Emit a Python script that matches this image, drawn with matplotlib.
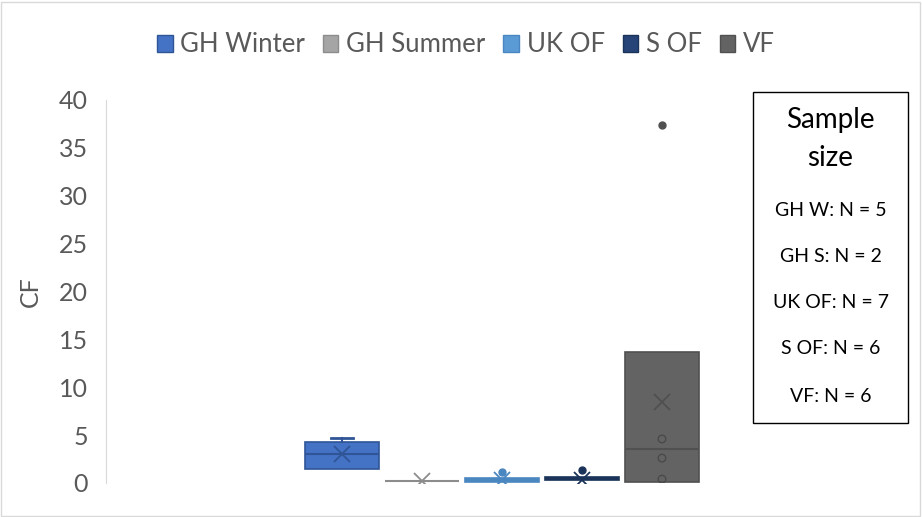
import matplotlib
matplotlib.use("Agg")
import matplotlib.pyplot as plt
from matplotlib.patches import Rectangle, Patch

plt.rcParams['font.family'] = ['Lato', 'DejaVu Sans']

# ---- data ----
categories = ["GH Winter", "GH Summer", "UK OF", "S OF", "VF"]
q1 = [1.45, 0.2, 0.14, 0.28, 0.14]
median = [3.0, 0.2, 0.3, 0.45, 3.6]
q3 = [4.3, 0.2, 0.49, 0.66, 13.7]
whislo = [1.45, 0.2, 0.14, 0.28, 0.14]
whishi = [4.75, 0.2, 0.49, 0.66, 13.7]
means = [3.0, 0.2, 0.3, 0.3, 8.45]
outliers = [[], [], [1.18], [1.4], [37.4]]
inner_points = [[], [], [], [], [0.4, 2.6, 4.6]]
sample_sizes = [5, 2, 7, 6, 6]
sample_labels = ["GH W", "GH S", "UK OF", "S OF", "VF"]

face_colors = ["#4472C4", "#A5A5A5", "#5B9BD5", "#264478", "#636363"]
edge_colors = ["#2F5597", "#8C8C8C", "#4A86C0", "#1B3359", "#505050"]

W, H = 922, 517
fig = plt.figure(figsize=(W / 100, H / 100), dpi=100)
ax = fig.add_axes([106 / W, 1 - 483 / H, (898 - 106) / W, (483 - 100) / H])

positions = [-2, -1, 0, 1, 2]
for i, cat in enumerate(categories):
    stats = [dict(med=median[i], q1=q1[i], q3=q3[i], whislo=whislo[i],
                  whishi=whishi[i], mean=means[i], fliers=outliers[i])]
    art = ax.bxp(stats, positions=[positions[i]], widths=0.93, patch_artist=True,
                 showmeans=True, capwidths=0.27,
                 boxprops=dict(facecolor=face_colors[i], edgecolor=edge_colors[i], linewidth=1.2),
                 medianprops=dict(color=edge_colors[i], linewidth=1.5),
                 whiskerprops=dict(color=edge_colors[i], linewidth=1.5),
                 capprops=dict(color=edge_colors[i], linewidth=2),
                 meanprops=dict(marker='x', markeredgecolor=edge_colors[i], markersize=11,
                                markeredgewidth=1.3),
                 flierprops=dict(marker='o', markerfacecolor=edge_colors[i],
                                 markeredgecolor=edge_colors[i], markersize=5))
    # hide caps of zero-length whiskers (Excel draws none)
    lower_cap, upper_cap = art['caps']
    if whislo[i] >= q1[i]:
        lower_cap.set_visible(False)
    if whishi[i] <= q3[i]:
        upper_cap.set_visible(False)
    if inner_points[i]:
        ax.scatter([positions[i]] * len(inner_points[i]), inner_points[i], s=30,
                   facecolors='none', edgecolors='#4a4a4a', linewidths=1.0, zorder=4)

ax.set_xlim(-4.95, 4.95)
ax.set_ylim(0, 40)
ax.set_yticks(range(0, 41, 5))
ax.set_xticks([])
ax.tick_params(axis='y', length=0, labelsize=18, labelcolor='#595959', pad=13)
for s in ['top', 'right', 'bottom']:
    ax.spines[s].set_visible(False)
ax.spines['left'].set_color('#D9D9D9')
ax.set_ylabel("CF", fontsize=18, color='#595959', labelpad=12)

handles = [Patch(facecolor=face_colors[i], edgecolor=edge_colors[i], label=categories[i])
           for i in range(len(categories))]
fig.legend(handles=handles, loc='center', bbox_to_anchor=(466 / W, 1 - 45 / H), ncol=5,
           frameon=False, fontsize=18.5, labelcolor='#595959', handlelength=0.6,
           handleheight=0.6, handletextpad=0.3, columnspacing=0.7)

# sample-size text box
fig.add_artist(Rectangle((753 / W, 1 - 423 / H), (908 - 753) / W, (423 - 92) / H,
                         transform=fig.transFigure, facecolor='white',
                         edgecolor='black', linewidth=1.0, zorder=5))
cx = 830.5 / W
fig.text(cx, 1 - 120 / H, "Sample", ha='center', va='center', fontsize=20, zorder=6)
fig.text(cx, 1 - 158 / H, "size", ha='center', va='center', fontsize=20, zorder=6)
ys = [210, 257, 303, 349, 397]
for lab, n, y in zip(sample_labels, sample_sizes, ys):
    fig.text(cx, 1 - y / H, f"{lab}: N = {n}", ha='center', va='center',
             fontsize=14, zorder=6)

# outer chart border
fig.add_artist(Rectangle((0.001, 0.002), 0.997, 0.995, transform=fig.transFigure,
                         facecolor='none', edgecolor='#D9D9D9', linewidth=1.0))

fig.savefig("out.png", dpi=100)
